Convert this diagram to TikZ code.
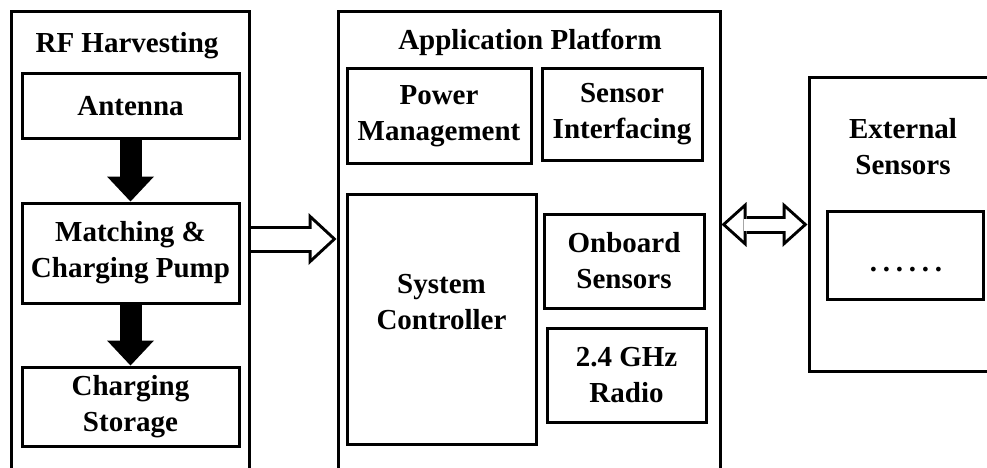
\documentclass[tikz,border=0pt]{standalone}
\usepackage{fontspec}
\setmainfont{Liberation Serif}
\usetikzlibrary{arrows.meta,positioning}

\begin{document}
\begin{tikzpicture}[x=1pt,y=-1pt,
  font=\fontsize{29}{36}\selectfont\bfseries,
  box/.style={draw,line width=3pt,align=center,inner sep=0pt},
  title/.style={align=center,inner sep=0pt},
  solidarrow/.style={line width=22pt,-{Triangle[width=47pt,length=25pt,line width=0pt]}},
  bigout/.style={line width=27pt,-{Triangle[width=52pt,length=28pt,line width=0pt]}},
  bigin/.style={white,line width=21pt,shorten >=4.4pt,-{Triangle[width=38pt,length=20.6pt,line width=0pt]}},
  linkout/.style={line width=18pt,{Triangle[width=45pt,length=25pt,line width=0pt]}-{Triangle[width=45pt,length=25pt,line width=0pt]}},
  linkin/.style={white,line width=12pt,shorten <=4.5pt,shorten >=4.5pt,{Triangle[width=31.5pt,length=17.5pt,line width=0pt]}-{Triangle[width=31.5pt,length=17.5pt,line width=0pt]}}]
\useasboundingbox (0,0) rectangle (987,468);
\clip (0,0) rectangle (987,468);

%RF Harvesting
\node[box,minimum width=238,minimum height=480] (rf) at (130.5,252) {};
\node[title,anchor=base] (rftitle) at (127,53) {RF Harvesting};
\node[box,minimum width=217,minimum height=64] (antenna) at (130.5,106) {Antenna};
\node[box,minimum width=217,minimum height=100] (match) at (130.5,253) {Matching \&\\Charging Pump};
\node[box,minimum width=217,minimum height=79] (storage) at (130.5,406.5) {Charging\\Storage};

%Application Platform
\node[box,minimum width=382,minimum height=480] (ap) at (529,252) {};
\node[title,anchor=base] (aptitle) at (530,50) {Application Platform};
\node[box,minimum width=184,minimum height=94] (power) at (439,116) {Power\\Management};
\node[box,minimum width=160,minimum height=91] (iface) at (622,114.5) {Sensor\\Interfacing};
\node[box,minimum width=189,minimum height=250] (ctrl) at (441.5,319) {};
\node[title] (ctrltext) at ([yshift=17pt]ctrl.center) {System\\Controller};
\node[box,minimum width=160,minimum height=94] (onboard) at (624,261) {Onboard\\Sensors};
\node[box,minimum width=159,minimum height=94] (radio) at (626.5,375) {2.4 GHz\\Radio};

%External Sensors
\node[box,minimum width=201,minimum height=293] (ext) at (909.5,224.5) {};
\node[title] (exttitle) at (903,147) {External\\Sensors};
\node[box,minimum width=156,minimum height=88] (more) at (905,255) {};
\node[title,anchor=base] (moretext) at (906,271) {\addfontfeatures{LetterSpace=20}......};

%Arrows
\draw[solidarrow] (antenna) -- (match);
\draw[solidarrow] (match) -- (storage);

\coordinate (lvl) at (0,239);
\draw[bigout] (rf.east |- lvl) -- (ap.west |- lvl);
\draw[bigin] (rf.east |- lvl) -- (ap.west |- lvl);

\draw[linkout] (ap.east |- ext.west) -- (ext.west);
\draw[linkin] (ap.east |- ext.west) -- (ext.west);

\end{tikzpicture}
\end{document}
